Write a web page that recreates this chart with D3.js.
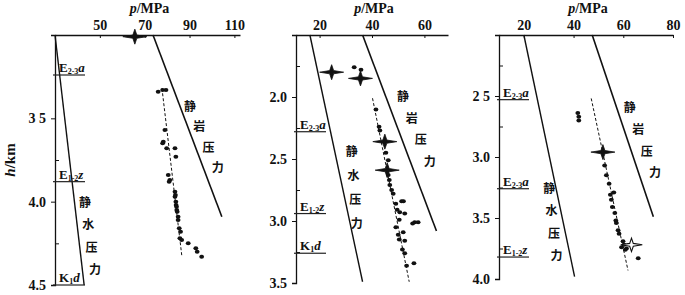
<!DOCTYPE html>
<html>
<head>
<meta charset="utf-8">
<script src="https://cdn.jsdelivr.net/npm/d3@7"></script>
<style>
  body { margin: 0; background: #fff; }
  svg { display: block; }
  text { font-family: "Liberation Serif", "DejaVu Serif", serif; fill: #111; }
  .cn { font-family: "Noto Sans CJK SC", sans-serif; font-size: 12px; font-weight: bold; }
</style>
</head>
<body>
<svg id="chart" width="685" height="295"></svg>
<script>
// ---- data: [p (MPa), h (km)] ----
const well1Points = [
  [76.0, 3.34], [78.0, 3.33], [79.5, 3.33], [79.0, 3.57], [78.3, 3.64], [78.0, 3.65],
  [79.8, 3.68], [83.5, 3.68], [83.9, 3.73], [80.5, 3.84], [81.2, 3.87], [80.9, 3.88],
  [83.5, 3.94], [83.7, 3.96], [83.5, 3.97], [83.9, 4.00], [84.0, 4.02], [84.2, 4.03],
  [84.3, 4.05], [84.5, 4.06], [84.9, 4.09], [84.9, 4.11], [85.4, 4.16], [86.0, 4.18],
  [85.7, 4.22], [86.5, 4.23], [89.4, 4.25], [92.8, 4.28], [93.4, 4.30], [95.4, 4.33]
];
const well1Stars = [[65.6, 3.01]];
const well1Hydro = [[30, 3.0], [43, 4.5]];
const well1Litho = [[73.7, 3.0], [104.4, 4.09]];
const well1Trend = [[77.7, 3.32], [86.6, 4.33]];

const well2Points = [
  [33.2, 1.76], [35.8, 1.78], [41.5, 2.10], [42.7, 2.24], [43.0, 2.27], [45.3, 2.45],
  [46.2, 2.51], [46.2, 2.63], [46.6, 2.67], [46.8, 2.71], [47.5, 2.75], [48.1, 2.78],
  [51.3, 2.84], [52.0, 2.84], [49.1, 2.86], [49.6, 2.91], [50.6, 2.93], [52.5, 2.94],
  [50.4, 2.99], [56.3, 3.01], [55.5, 3.02], [57.6, 3.01], [49.1, 3.05], [51.9, 3.09],
  [50.0, 3.11], [50.4, 3.15], [52.5, 3.16], [51.6, 3.23], [52.5, 3.26], [53.2, 3.36],
  [56.0, 3.34]
];
const well2Stars = [[24.6, 1.80], [35.6, 1.85], [44.9, 2.36], [45.8, 2.59]];
const well2Hydro = [[16.3, 1.5], [36.4, 3.49]];
const well2Litho = [[36.4, 1.5], [64.6, 3.08]];
const well2Trend = [[40.2, 2.01], [54.2, 3.49]];

const well3Points = [
  [41.7, 2.64], [42.1, 2.67], [42.1, 2.70], [52.5, 3.07], [53.2, 3.15], [54.3, 3.22],
  [56.2, 3.29], [54.8, 3.31], [55.2, 3.35], [55.6, 3.41], [56.6, 3.46], [57.0, 3.52],
  [57.2, 3.54], [57.9, 3.60], [58.3, 3.63], [59.9, 3.69], [59.3, 3.74], [61.3, 3.75],
  [60.3, 3.72], [60.8, 3.76], [66.0, 3.83]
];
const well3Stars = [[51.8, 2.96]];
const well3OpenStars = [[63.3, 3.72]];
const well3Hydro = [[20, 2.0], [40.4, 3.98]];
const well3Litho = [[47.5, 2.0], [72.1, 3.49]];
const well3Trend = [[47.1, 2.52], [61.9, 3.93]];

// formation tops: [base letter, subscript, suffix, depth km]
const well1Formations = [["E", "2-3", "a", 3.24], ["E", "1-2", "z", 3.88], ["K", "1", "d", 4.5]];
const well2Formations = [["E", "2-3", "a", 2.28], ["E", "1-2", "z", 2.94], ["K", "1", "d", 3.26]];
const well3Formations = [["E", "2-3", "a", 2.53], ["E", "2-3", "a", 3.26], ["E", "1-2", "z", 3.82]];

// tick labels
const well1XTicks = [50, 70, 90, 110];
const well2XTicks = [20, 40, 60];
const well3XTicks = [20, 40, 60, 80];
const well1YTicks = [3.5, 4.0, 4.5];
const well2YTicks = [2.0, 2.5, 3.0, 3.5];
const well3YTicks = [2.5, 3.0, 3.5, 4.0];
const well1YMinor = [3.75, 4.25];
const well2YMinor = [1.75, 2.25, 2.75, 3.25];
const well3YMinor = [2.25, 2.75, 3.25, 3.75];
const well1YFmt = ["3 5", "4.0", "4.5"];
const well2YFmt = ["2.0", "2.5", "3.0", "3.5"];
const well3YFmt = ["2 5", "3.0", "3.5", "4.0"];

// curve labels, start/end anchor in data units
const hydroChars = ["静", "水", "压", "力"];
const lithoChars = ["静", "岩", "压", "力"];
const well1HydroLabel = [[43.4, 4.0], [47.8, 4.40]];
const well1LithoLabel = [[90.2, 3.42], [102.6, 3.79]];
const well2HydroLabel = [[32.3, 2.43], [34.2, 3.01]];
const well2LithoLabel = [[51.8, 1.99], [62.0, 2.51]];
const well3HydroLabel = [[30.2, 3.25], [33.1, 3.80]];
const well3LithoLabel = [[62.6, 2.59], [72.8, 3.12]];

const panels = [
  { xDom: [30, 112.5], xRange: [55, 240], yDom: [3.0, 4.5], yRange: [35, 285],
    pts: well1Points, stars: well1Stars, open: [], hydro: well1Hydro, litho: well1Litho, trend: well1Trend,
    fm: well1Formations, xt: well1XTicks, yt: well1YTicks, ym: well1YMinor, yf: well1YFmt,
    hl: well1HydroLabel, ll: well1LithoLabel },
  { xDom: [11, 69], xRange: [296, 448], yDom: [1.5, 3.5], yRange: [35, 283],
    pts: well2Points, stars: well2Stars, open: [], hydro: well2Hydro, litho: well2Litho, trend: well2Trend,
    fm: well2Formations, xt: well2XTicks, yt: well2YTicks, ym: well2YMinor, yf: well2YFmt,
    hl: well2HydroLabel, ll: well2LithoLabel },
  { xDom: [10, 80], xRange: [499, 673], yDom: [2.0, 4.0], yRange: [35, 279],
    pts: well3Points, stars: well3Stars, open: well3OpenStars, hydro: well3Hydro, litho: well3Litho, trend: well3Trend,
    fm: well3Formations, xt: well3XTicks, yt: well3YTicks, ym: well3YMinor, yf: well3YFmt,
    hl: well3HydroLabel, ll: well3LithoLabel }
];

const svg = d3.select("#chart");

// 4-point star with long horizontal arms
const starPath = "M-12,0 L-2,-1.6 L0,-7.5 L2,-1.6 L12,0 L2,1.6 L0,7.5 L-2,1.6 Z";

panels.forEach(cfg => {
  const x = d3.scaleLinear().domain(cfg.xDom).range(cfg.xRange);
  const y = d3.scaleLinear().domain(cfg.yDom).range(cfg.yRange);
  const g = svg.append("g");
  const line = d3.line().x(d => x(d[0])).y(d => y(d[1]));

  // top axis
  const xAxis = g.append("g")
    .attr("transform", `translate(0,${cfg.yRange[0]})`)
    .call(d3.axisTop(x).tickValues(cfg.xt).tickSizeInner(-3).tickSizeOuter(0).tickPadding(5));
  xAxis.select(".domain").attr("stroke", "#111").attr("stroke-width", 1.3);
  xAxis.selectAll(".tick line").attr("stroke", "#111");
  xAxis.selectAll("text").attr("font-size", 14).attr("font-weight", "bold")
    .attr("font-family", "Liberation Serif, serif").attr("fill", "#111");

  // left axis
  const yAxis = g.append("g")
    .attr("transform", `translate(${cfg.xRange[0]},0)`)
    .call(d3.axisLeft(y).tickValues(cfg.yt).tickFormat((d, i) => cfg.yf[i]).tickSizeOuter(0).tickSize(4).tickPadding(5));
  yAxis.select(".domain").attr("stroke", "#111").attr("stroke-width", 1.3);
  yAxis.selectAll(".tick line").attr("stroke", "#111");
  yAxis.selectAll("text").attr("font-size", 14).attr("font-weight", "bold")
    .attr("font-family", "Liberation Serif, serif").attr("fill", "#111");
  g.append("g")
    .attr("transform", `translate(${cfg.xRange[0]},0)`)
    .call(d3.axisRight(y).tickValues(cfg.ym).tickFormat("").tickSizeOuter(0).tickSize(4))
    .call(a => a.select(".domain").remove())
    .selectAll(".tick line").attr("stroke", "#111");

  // axis title
  const t = g.append("text")
    .attr("x", (cfg.xRange[0] + cfg.xRange[1]) / 2 + 2)
    .attr("y", 13)
    .attr("text-anchor", "middle")
    .attr("font-size", 14)
    .attr("font-weight", "bold");
  t.append("tspan").attr("font-style", "italic").text("p");
  t.append("tspan").text("/MPa");

  // pressure lines
  g.append("path").datum(cfg.hydro).attr("d", line)
    .attr("fill", "none").attr("stroke", "#111").attr("stroke-width", 1.4);
  g.append("path").datum(cfg.litho).attr("d", line)
    .attr("fill", "none").attr("stroke", "#111").attr("stroke-width", 1.6);
  g.append("path").datum(cfg.trend).attr("d", line)
    .attr("fill", "none").attr("stroke", "#111").attr("stroke-width", 1)
    .attr("stroke-dasharray", "3,2");

  // formation boundaries
  cfg.fm.forEach(f => {
    const yy = y(f[3]);
    g.append("line")
      .attr("x1", cfg.xRange[0] - 2).attr("x2", cfg.xRange[0] + 30)
      .attr("y1", yy).attr("y2", yy)
      .attr("stroke", "#222").attr("stroke-width", 1.2);
    const lt = g.append("text")
      .attr("x", cfg.xRange[0] + 4)
      .attr("y", yy - 3)
      .attr("font-size", 13)
      .attr("font-weight", "bold");
    lt.append("tspan").text(f[0]);
    lt.append("tspan").attr("font-size", 8).attr("dy", 2).text(f[1]);
    lt.append("tspan").attr("font-style", "italic").attr("dy", -2).text(f[2]);
  });

  // curve labels
  [[cfg.hl, hydroChars], [cfg.ll, lithoChars]].forEach(([anchor, chars]) => {
    chars.forEach((c, i) => {
      const k = i / (chars.length - 1);
      const p = anchor[0][0] + k * (anchor[1][0] - anchor[0][0]);
      const h = anchor[0][1] + k * (anchor[1][1] - anchor[0][1]);
      g.append("text").attr("class", "cn")
        .attr("x", x(p)).attr("y", y(h))
        .attr("text-anchor", "middle").attr("dominant-baseline", "central")
        .text(c);
    });
  });

  // measured points
  g.selectAll(".pt").data(cfg.pts).enter().append("ellipse")
    .attr("cx", d => x(d[0])).attr("cy", d => y(d[1]))
    .attr("rx", 2.4).attr("ry", 2)
    .attr("fill", "#111");

  // star symbols
  g.selectAll(".star").data(cfg.stars).enter().append("path")
    .attr("d", starPath)
    .attr("transform", d => `translate(${x(d[0])},${y(d[1])})`)
    .attr("fill", "#111").attr("stroke", "#111").attr("stroke-width", 0.8);
  g.selectAll(".ostar").data(cfg.open).enter().append("path")
    .attr("d", starPath)
    .attr("transform", d => `translate(${x(d[0])},${y(d[1])}) scale(0.9)`)
    .attr("fill", "#fff").attr("stroke", "#111").attr("stroke-width", 1.2);
});

// vertical axis title
const ht = svg.append("text")
  .attr("transform", "translate(15,160) rotate(-90)")
  .attr("text-anchor", "middle")
  .attr("font-size", 15)
  .attr("font-weight", "bold");
ht.append("tspan").attr("font-style", "italic").text("h");
ht.append("tspan").text("/km");
</script>
</body>
</html>
